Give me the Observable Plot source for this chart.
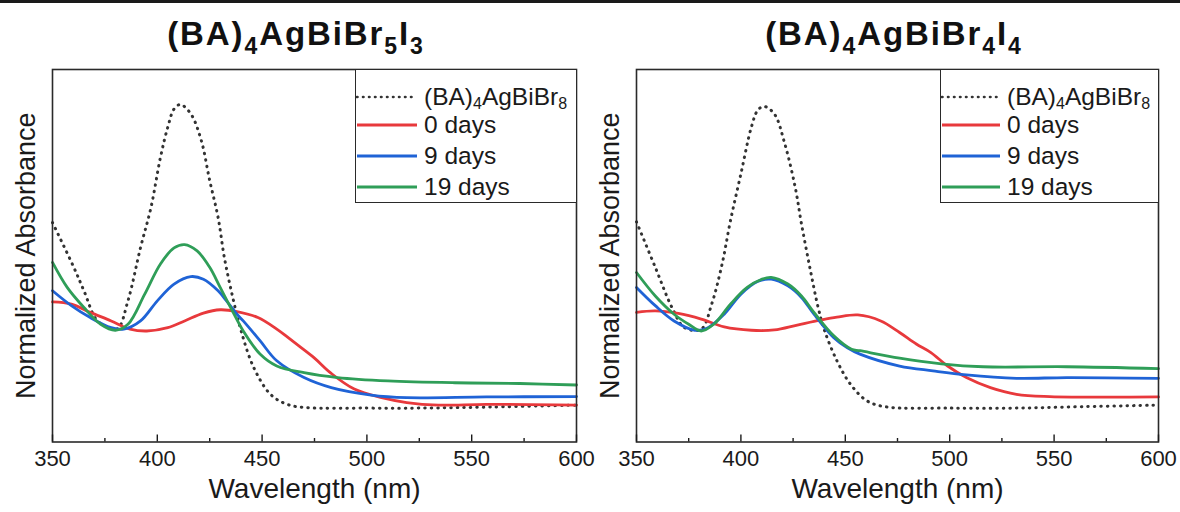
<!DOCTYPE html>
<html>
<head>
<meta charset="utf-8">
<script src="https://cdn.jsdelivr.net/npm/d3@7"></script>
<script src="https://cdn.jsdelivr.net/npm/@observablehq/plot@0.6"></script>
<style>
  body { margin: 0; background: #fff; font-family: "Liberation Sans", Arial, sans-serif; }
  #page { position: relative; width: 1180px; height: 512px; overflow: hidden; background: #fff; }
  .topline { position: absolute; left: 0; top: 0; width: 1180px; height: 2.5px; background: #1a1a1a; }
  .title { position: absolute; top: 14px; width: 420px; text-align: center; font-weight: bold;
           font-size: 33px; line-height: 40px; color: #111; letter-spacing: 1.9px; white-space: nowrap; }
  .title sub { font-size: 23px; vertical-align: -9px; line-height: 0; }
  .chart { position: absolute; top: 62px; }
  .legend { position: absolute; top: 69px; height: 134px; border: 1.6px solid #2a2a2a; background: #fff; box-sizing: border-box; }
  .row { position: absolute; left: 0; height: 26px; line-height: 26px; display: flex; align-items: center; font-size: 24.5px; color: #1a1a1a; white-space: nowrap; }
  .row svg { display: block; margin-right: 6px; }
  .row sub { font-size: 16px; vertical-align: -4px; line-height: 0; }
</style>
</head>
<body>
<div id="page">
  <div class="topline"></div>
  <div class="title" style="left:86px">(BA)<sub>4</sub>AgBiBr<sub>5</sub>I<sub>3</sub></div>
  <div class="title" style="left:684px">(BA)<sub>4</sub>AgBiBr<sub>4</sub>I<sub>4</sub></div>
  <div class="chart" id="chartA" style="left:0px"></div>
  <div class="chart" id="chartB" style="left:590px"></div>
  <div class="legend" id="legendA" style="left:355px; width:222px"></div>
  <div class="legend" id="legendB" style="left:940px; width:219px"></div>
</div>
<script>
// ---------- data ----------
const seriesNames = ["(BA)4AgBiBr8", "0 days", "9 days", "19 days"];
const majorTicks = [350, 400, 450, 500, 550, 600];
const minorTicks = [375, 425, 475, 525, 575];

// Panel A: (BA)4AgBiBr5I3
const wlA_ref = [350, 360, 365, 371, 376, 381, 386, 392, 397, 401.5, 405, 408, 411, 416, 421, 425, 429, 432, 436, 440, 446, 454, 462, 472, 500, 525, 560, 600];
const absA_ref = [0.589, 0.471, 0.406, 0.328, 0.309, 0.304, 0.379, 0.522, 0.630, 0.764, 0.845, 0.894, 0.906, 0.881, 0.809, 0.702, 0.603, 0.495, 0.388, 0.298, 0.200, 0.128, 0.101, 0.092, 0.091, 0.091, 0.094, 0.099];
const wlA_d0 = [350, 359, 368, 378, 387, 395, 405, 413, 422, 430, 438, 448, 457, 462, 468, 475, 483, 494, 507, 519, 534, 557, 600];
const absA_d0 = [0.376, 0.370, 0.348, 0.325, 0.303, 0.298, 0.307, 0.325, 0.346, 0.355, 0.350, 0.334, 0.303, 0.282, 0.256, 0.225, 0.184, 0.142, 0.119, 0.106, 0.099, 0.101, 0.099];
const wlA_d9 = [350, 359, 368, 378, 384, 392, 400, 408, 416, 422, 429, 433, 438, 441, 449, 457, 470, 483, 502, 519, 557, 600];
const absA_d9 = [0.406, 0.366, 0.334, 0.307, 0.303, 0.325, 0.379, 0.424, 0.444, 0.437, 0.406, 0.379, 0.343, 0.325, 0.272, 0.218, 0.173, 0.146, 0.126, 0.119, 0.121, 0.122];
const wlA_d19 = [350, 357, 365, 373, 380, 386, 394, 401.5, 408, 413, 419, 425, 430, 435, 441, 449, 457, 470, 486, 510, 542, 573, 600];
const absA_d19 = [0.482, 0.415, 0.361, 0.316, 0.300, 0.316, 0.397, 0.478, 0.521, 0.530, 0.513, 0.469, 0.415, 0.361, 0.298, 0.236, 0.204, 0.186, 0.173, 0.164, 0.159, 0.157, 0.153];

// Panel B: (BA)4AgBiBr4I4
const wlB_ref = [350, 359, 367, 373, 381, 386, 391, 395, 400, 405, 408, 411, 416, 421, 426, 429, 433, 437, 440, 446, 452.5, 460.5, 470, 500, 532, 565, 600];
const absB_ref = [0.591, 0.469, 0.361, 0.307, 0.303, 0.370, 0.478, 0.594, 0.720, 0.845, 0.890, 0.901, 0.881, 0.801, 0.684, 0.586, 0.469, 0.361, 0.300, 0.218, 0.155, 0.110, 0.094, 0.091, 0.091, 0.095, 0.099];
const wlB_d0 = [350, 359, 370, 381, 392, 405, 416, 427, 438, 446, 456, 467, 476, 484, 491, 499, 508, 519.5, 532, 548, 600];
const absB_d0 = [0.348, 0.352, 0.345, 0.330, 0.309, 0.300, 0.301, 0.314, 0.327, 0.335, 0.341, 0.325, 0.294, 0.263, 0.240, 0.204, 0.173, 0.146, 0.128, 0.122, 0.121];
const wlB_d9 = [350, 359, 368, 378, 384, 392, 400, 408, 414.5, 422.5, 429, 435, 444.5, 451, 457, 476, 492, 508, 532, 556, 600];
const absB_d9 = [0.415, 0.366, 0.325, 0.300, 0.306, 0.343, 0.397, 0.431, 0.437, 0.419, 0.388, 0.343, 0.280, 0.253, 0.236, 0.204, 0.191, 0.180, 0.171, 0.173, 0.171];
const wlB_d19 = [350, 359, 368, 375, 381, 387, 395, 403, 410, 414.5, 422.5, 429, 435, 444.5, 453, 457, 476, 496, 516, 556, 600];
const absB_d19 = [0.455, 0.392, 0.343, 0.316, 0.298, 0.316, 0.370, 0.415, 0.437, 0.442, 0.424, 0.392, 0.348, 0.285, 0.249, 0.245, 0.225, 0.210, 0.202, 0.202, 0.197];

// ---------- styles ----------
const seriesStyle = [
  {stroke: "#333333", strokeWidth: 3, strokeDasharray: "0.5 6", strokeLinecap: "round"},
  {stroke: "#e8393c", strokeWidth: 2.8},
  {stroke: "#1f63d6", strokeWidth: 2.8},
  {stroke: "#2f9e58", strokeWidth: 2.8}
];

const zip = (wl, v) => wl.map((w, i) => ({wl: w, v: v[i]}));

function panel(seriesList, marginLeft, marginRight) {
  const width = 590;
  const marks = [];
  seriesList.forEach((s, i) => {
    marks.push(Plot.line(s, {x: "wl", y: "v", curve: "catmull-rom", ...seriesStyle[i]}));
  });
  marks.push(
    Plot.frame({stroke: "#2a2a2a", strokeWidth: 1.6}),
    Plot.axisX({ticks: majorTicks, tickSize: -7, tickFormat: () => "", label: null, strokeWidth: 1.4}),
    Plot.axisX({ticks: minorTicks, tickSize: -3.5, tickFormat: () => "", label: null, strokeWidth: 1.4}),
    Plot.axisX({ticks: majorTicks, tickSize: 0, tickPadding: 8, tickFormat: d => String(d), label: null, fontSize: 22}),
    Plot.text(["Wavelength (nm)"], {frameAnchor: "bottom", dy: 56, fontSize: 28, fill: "#1a1a1a", textAnchor: "middle"}),
    Plot.text(["Normalized Absorbance"], {frameAnchor: "left", dx: -26.5, rotate: -90, fontSize: 27, fill: "#1a1a1a", textAnchor: "middle"})
  );
  return Plot.plot({
    width, height: 450,
    marginTop: 7, marginBottom: 70.5, marginLeft, marginRight,
    x: {domain: [350, 600]},
    y: {domain: [0, 1], axis: null},
    style: {fontFamily: "'Liberation Sans', Arial, sans-serif", fontSize: "22px", color: "#1a1a1a", background: "transparent", overflow: "visible"},
    marks
  });
}

document.getElementById("chartA").append(panel(
  [zip(wlA_ref, absA_ref), zip(wlA_d0, absA_d0), zip(wlA_d9, absA_d9), zip(wlA_d19, absA_d19)], 52, 14));
document.getElementById("chartB").append(panel(
  [zip(wlB_ref, absB_ref), zip(wlB_d0, absB_d0), zip(wlB_d9, absB_d9), zip(wlB_d19, absB_d19)], 46, 22));

// ---------- legends ----------
function legend(el, swatchW) {
  const rowTops = [13.5, 42, 72.5, 103.5];
  seriesNames.forEach((name, i) => {
    const row = document.createElement("div");
    row.className = "row";
    row.style.top = rowTops[i] + "px";
    const st = seriesStyle[i];
    const svg = d3.create("svg").attr("width", swatchW).attr("height", 8);
    svg.append("line").attr("x1", 1).attr("x2", swatchW - 1).attr("y1", 4).attr("y2", 4)
      .attr("stroke", st.stroke).attr("stroke-width", i === 0 ? 2.6 : st.strokeWidth)
      .attr("stroke-dasharray", st.strokeDasharray ? "0.5 5.5" : null)
      .attr("stroke-linecap", st.strokeLinecap || null);
    row.append(svg.node());
    const label = document.createElement("span");
    label.innerHTML = i === 0 ? "(BA)<sub>4</sub>AgBiBr<sub>8</sub>" : name;
    row.append(label);
    el.append(row);
  });
}
legend(document.getElementById("legendA"), 62);
legend(document.getElementById("legendB"), 60);
</script>
</body>
</html>
